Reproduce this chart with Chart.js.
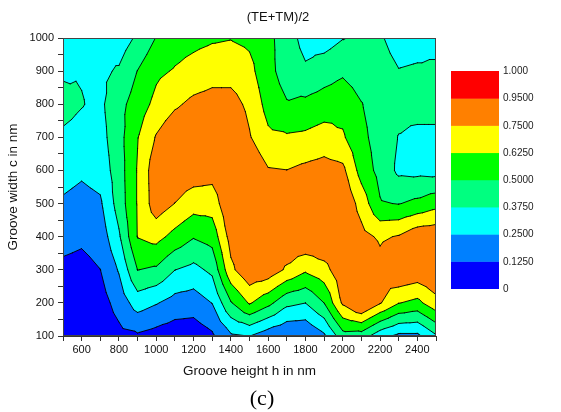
<!DOCTYPE html>
<html><head><meta charset="utf-8">
<script src="https://cdn.jsdelivr.net/npm/chart.js@4.4.1/dist/chart.umd.min.js"></script>
<style>html,body{margin:0;padding:0;background:#fff;}#wrap{width:561px;height:412px;}</style>
</head><body><div id="wrap"><canvas id="c" width="561" height="412"></canvas></div>
<script>
// Groove height h (nm) – grid columns
const heights = [500,600,700,800,900,1000,1100,1200,1300,1400,1500,1600,1700,1800,1900,2000,2100,2200,2300,2400,2500];
// Groove width c (nm) – grid rows
const widths = [100,200,300,400,500,600,700,800,900,1000];
// (TE+TM)/2 values, one list per groove height, ordered by groove width 100..1000
const h500  = [0.03, 0.06, 0.098, 0.166, 0.234, 0.297, 0.358, 0.41, 0.36, 0.32];
const h600  = [0.03, 0.06, 0.086, 0.147, 0.208, 0.27, 0.34, 0.38, 0.368, 0.33];
const h700  = [0.03, 0.07, 0.124, 0.178, 0.232, 0.30, 0.33, 0.35, 0.35, 0.34];
const h800  = [0.089, 0.174, 0.261, 0.358, 0.43, 0.44, 0.455, 0.46, 0.389, 0.307];
const h900  = [0.107, 0.308, 0.502, 0.63, 0.635, 0.635, 0.62, 0.56, 0.503, 0.396];
const h1000 = [0.076, 0.259, 0.481, 0.667, 0.82, 0.83, 0.76, 0.66, 0.6, 0.505];
const h1100 = [0.05, 0.201, 0.377, 0.584, 0.748, 0.84, 0.85, 0.73, 0.635, 0.57];
const h1200 = [0.05, 0.185, 0.339, 0.509, 0.68, 0.82, 0.87, 0.78, 0.67, 0.59];
const h1300 = [0.104, 0.253, 0.403, 0.549, 0.682, 0.80, 0.87, 0.80, 0.70, 0.61];
const h1400 = [0.229, 0.49, 0.72, 0.80, 0.86, 0.88, 0.87, 0.80, 0.70, 0.62];
const h1500 = [0.252, 0.638, 0.85, 0.88, 0.89, 0.86, 0.76, 0.72, 0.66, 0.60];
const h1600 = [0.174, 0.5375, 0.83, 0.86, 0.84, 0.76, 0.65, 0.58, 0.54, 0.54];
const h1700 = [0.128, 0.407, 0.73, 0.86, 0.82, 0.752, 0.64, 0.51, 0.44, 0.42];
const h1800 = [0.13, 0.376, 0.645, 0.87, 0.85, 0.78, 0.65, 0.53, 0.39, 0.34];
const h1900 = [0.227, 0.501, 0.706, 0.87, 0.86, 0.80, 0.68, 0.56, 0.44, 0.32];
const h2000 = [0.45, 0.77, 0.84, 0.88, 0.86, 0.78, 0.64, 0.58, 0.48, 0.37];
const h2100 = [0.44, 0.90, 0.90, 0.79, 0.70, 0.575, 0.53, 0.505, 0.44, 0.394];
const h2200 = [0.296, 0.76, 0.80, 0.73, 0.51, 0.46, 0.45, 0.44, 0.43, 0.39];
const h2300 = [0.22, 0.63, 0.88, 0.76, 0.495, 0.35, 0.37, 0.42, 0.38, 0.32];
const h2400 = [0.22, 0.59, 0.85, 0.84, 0.53, 0.34, 0.34, 0.43, 0.39, 0.33];
const h2500 = [0.36, 0.71, 0.87, 0.85, 0.58, 0.33, 0.34, 0.43, 0.41, 0.31];
const zColumns = [h500,h600,h700,h800,h900,h1000,h1100,h1200,h1300,h1400,h1500,h1600,h1700,h1800,h1900,h2000,h2100,h2200,h2300,h2400,h2500];

const levels = [0, 0.125, 0.25, 0.375, 0.5, 0.625, 0.75, 0.95, 1.0];
const levelLabels = ['0','0.1250','0.2500','0.3750','0.5000','0.6250','0.7500','0.9500','1.000'];
const bandColors = ['#0000FF','#0080FF','#00FFFF','#00FF80','#00FF00','#FFFF00','#FF8000','#FF0000'];
const xTickValues = [500,600,700,800,900,1000,1100,1200,1300,1400,1500,1600,1700,1800,1900,2000,2100,2200,2300,2400,2500];
const xTickLabels = [600,800,1000,1200,1400,1600,1800,2000,2200,2400];
const yTickValues = [100,150,200,250,300,350,400,450,500,550,600,650,700,750,800,850,900,950,1000];
const yTickLabels = [100,200,300,400,500,600,700,800,900,1000];

const FONT = "'Liberation Sans', Arial, sans-serif";

// each grid cell is split into four triangles around its centre (mean of the corners)
function triangles() {
  const tris = [];
  for (let i = 0; i < heights.length - 1; i++) {
    for (let j = 0; j < widths.length - 1; j++) {
      const a = {x: heights[i], y: widths[j], z: zColumns[i][j]};
      const b = {x: heights[i+1], y: widths[j], z: zColumns[i+1][j]};
      const c = {x: heights[i+1], y: widths[j+1], z: zColumns[i+1][j+1]};
      const d = {x: heights[i], y: widths[j+1], z: zColumns[i][j+1]};
      const m = {x: (a.x + b.x) / 2, y: (a.y + d.y) / 2, z: (a.z + b.z + c.z + d.z) / 4};
      tris.push([a,b,m], [b,c,m], [c,d,m], [d,a,m]);
    }
  }
  return tris;
}
function clipAbove(pts, L) {
  const out = [];
  for (let i = 0; i < pts.length; i++) {
    const a = pts[i], b = pts[(i+1) % pts.length];
    const ain = a.z >= L, bin = b.z >= L;
    if (ain) out.push(a);
    if (ain !== bin) {
      const t = (L - a.z) / (b.z - a.z);
      out.push({x: a.x + t*(b.x-a.x), y: a.y + t*(b.y-a.y), z: L});
    }
  }
  return out;
}

const contourPlugin = {
  id: 'contour',
  beforeDatasetsDraw(chart) {
    const {ctx, chartArea: ca, scales: {x, y}} = chart;
    const tris = triangles();
    ctx.save();
    ctx.beginPath(); ctx.rect(ca.left, ca.top, ca.right - ca.left, ca.bottom - ca.top); ctx.clip();
    ctx.fillStyle = bandColors[0];
    ctx.fillRect(ca.left, ca.top, ca.right - ca.left, ca.bottom - ca.top);
    for (let k = 1; k < bandColors.length; k++) {
      const L = levels[k];
      ctx.beginPath();
      let any = false;
      for (const t of tris) {
        const p = clipAbove(t, L);
        if (p.length < 3) continue;
        any = true;
        ctx.moveTo(x.getPixelForValue(p[0].x), y.getPixelForValue(p[0].y));
        for (let m = 1; m < p.length; m++) ctx.lineTo(x.getPixelForValue(p[m].x), y.getPixelForValue(p[m].y));
        ctx.closePath();
      }
      if (any) { ctx.fillStyle = bandColors[k]; ctx.fill('nonzero'); }
    }
    // contour lines
    ctx.beginPath();
    for (let k = 1; k < levels.length - 1; k++) {
      const L = levels[k];
      for (const t of tris) {
        const seg = [];
        for (let e = 0; e < 3; e++) {
          const a = t[e], b = t[(e+1)%3];
          if ((a.z >= L) !== (b.z >= L)) {
            const s = (L - a.z) / (b.z - a.z);
            seg.push([a.x + s*(b.x-a.x), a.y + s*(b.y-a.y)]);
          }
        }
        if (seg.length === 2) {
          ctx.moveTo(x.getPixelForValue(seg[0][0]), y.getPixelForValue(seg[0][1]));
          ctx.lineTo(x.getPixelForValue(seg[1][0]), y.getPixelForValue(seg[1][1]));
        }
      }
    }
    ctx.strokeStyle = '#000'; ctx.lineWidth = 0.9; ctx.lineCap = 'round';
    ctx.stroke();
    ctx.restore();
  },
  afterDatasetsDraw(chart) {
    const {ctx, chartArea: ca} = chart;
    ctx.save();
    ctx.strokeStyle = '#444'; ctx.lineWidth = 1;
    ctx.strokeRect(Math.round(ca.left) + 0.5, Math.round(ca.top) + 0.5, Math.round(ca.right - ca.left) - 1, Math.round(ca.bottom - ca.top) - 1);
    ctx.restore();
  },
  afterDraw(chart) {
    const ctx = chart.ctx;
    ctx.save();
    ctx.fillStyle = '#111'; ctx.textAlign = 'center'; ctx.textBaseline = 'middle';
    ctx.font = '13px ' + FONT;
    ctx.fillText('(TE+TM)/2', 278, 17.5);
    const top = 71, bottom = 288.5, left = 451, right = 499;
    const n = bandColors.length, h = (bottom - top) / n;
    for (let k = 0; k < n; k++) {
      ctx.fillStyle = bandColors[k];
      const yb = bottom - k * h;
      ctx.fillRect(left, yb - h, right - left, h + 0.5);
    }
    ctx.fillStyle = '#222'; ctx.textAlign = 'left'; ctx.font = '10px ' + FONT;
    for (let k = 0; k < levelLabels.length; k++) {
      ctx.fillText(levelLabels[k], 503, bottom - k * h + 0.5);
    }
    ctx.fillStyle = '#000'; ctx.textAlign = 'center';
    ctx.font = "22px 'Liberation Serif', 'Times New Roman', serif";
    ctx.fillText('(c)', 262, 399);
    ctx.restore();
  }
};

const gridPoints = [];
heights.forEach((hx, i) => widths.forEach((wy, j) => gridPoints.push({x: hx, y: wy, z: zColumns[i][j]})));

new Chart(document.getElementById('c'), {
  type: 'scatter',
  data: {datasets: [{data: gridPoints, pointRadius: 0, pointHoverRadius: 0, showLine: false}]},
  options: {
    responsive: false, animation: false, devicePixelRatio: 1,
    layout: {padding: {left: 0, right: 125, top: 38, bottom: 0}},
    plugins: {legend: {display: false}, tooltip: {enabled: false}, title: {display: false}},
    scales: {
      x: {
        type: 'linear', min: 500, max: 2500, position: 'bottom',
        afterFit: s => { s.height = 76; },
        afterBuildTicks: s => { s.ticks = xTickValues.map(v => ({value: v})); },
        ticks: {autoSkip: false, maxRotation: 0, minRotation: 0, padding: 2, color: '#111',
          font: {family: FONT, size: 11},
          callback: v => xTickLabels.includes(v) ? String(v) : ''},
        grid: {display: true, drawOnChartArea: false, drawTicks: true, tickLength: 5, color: '#333'},
        border: {display: true, color: '#333', width: 1},
        title: {display: true, text: 'Groove height h in nm', color: '#111',
          font: {family: FONT, size: 13.5}, padding: {top: 0, bottom: 33}}
      },
      y: {
        type: 'linear', min: 100, max: 1000, position: 'left',
        afterFit: s => { s.width = 63; },
        afterBuildTicks: s => { s.ticks = yTickValues.map(v => ({value: v})); },
        ticks: {autoSkip: false, padding: 4, color: '#111',
          font: {family: FONT, size: 11},
          callback: v => yTickLabels.includes(v) ? String(v) : ''},
        grid: {display: true, drawOnChartArea: false, drawTicks: true, tickLength: 5, color: '#333'},
        border: {display: true, color: '#333', width: 1},
        title: {display: true, text: 'Groove width c in nm', color: '#111',
          font: {family: FONT, size: 13.5}, padding: {top: 5, bottom: 0}}
      }
    }
  },
  plugins: [contourPlugin]
});
</script></body></html>
